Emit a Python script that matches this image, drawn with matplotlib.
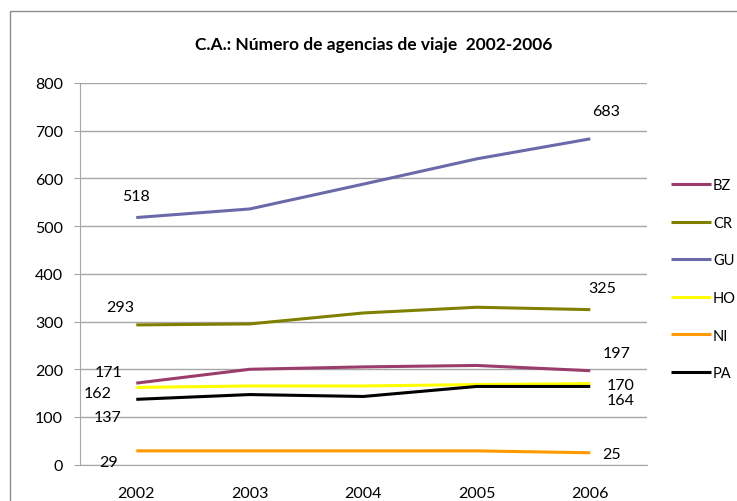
import matplotlib.pyplot as plt
from matplotlib.patches import Rectangle

plt.rcParams['font.family'] = ['Lato', 'DejaVu Sans']

# Datos
anios = ['2002', '2003', '2004', '2005', '2006']
paises = ['BZ', 'CR', 'GU', 'HO', 'NI', 'PA']
bz = [171, 200, 205, 208, 197]
cr = [293, 295, 318, 330, 325]
gu = [518, 536, 588, 641, 683]
ho = [162, 165, 165, 168, 170]
ni = [29, 29, 29, 29, 25]
pa = [137, 147, 143, 164, 164]
series = [bz, cr, gu, ho, ni, pa]

colores = ['#9b3d6b', '#808000', '#6a6aaa', '#ffff00', '#ff9900', '#000000']

# desplazamiento (px) de las etiquetas del primer y ultimo punto
off_ini = [(-28, 11), (-16, 18), (0, 22), (-39, -6), (-28, -11), (-29, -18)]
off_fin = [(26, 18), (12, 22), (16, 28), (30, -1), (21, -1), (30, -14)]

fig = plt.figure(figsize=(7.37, 5.02), dpi=100)
ax = fig.add_axes([0.1079, 0.0723, 0.7700, 0.7604])

x = list(range(len(anios)))
for i, nombre in enumerate(paises):
    ax.plot(x, series[i], color=colores[i], lw=2.2, label=nombre, solid_capstyle='butt')
    ax.annotate(str(series[i][0]), (x[0], series[i][0]), xytext=off_ini[i],
                textcoords='offset pixels', ha='center', va='center', fontsize=11.5)
    ax.annotate(str(series[i][-1]), (x[-1], series[i][-1]), xytext=off_fin[i],
                textcoords='offset pixels', ha='center', va='center', fontsize=11.5)

ax.set_xlim(-0.5, 4.5)
ax.set_ylim(0, 800)
ax.set_yticks(range(0, 801, 100))
ax.set_xticks(x)
ax.set_xticklabels(anios)
ax.grid(axis='y', color='#a6a6a6', lw=1)
ax.set_axisbelow(True)
for s in ['top', 'right']:
    ax.spines[s].set_visible(False)
for s in ['left', 'bottom']:
    ax.spines[s].set_color('#a6a6a6')
ax.tick_params(axis='y', length=4, color='#a6a6a6', labelsize=11.5, pad=8)
ax.tick_params(axis='x', length=0, labelsize=11.5, pad=15)

fig.text(0.507, 0.910, 'C.A.: Número de agencias de viaje  2002-2006',
         ha='center', va='center', fontsize=12.5, fontweight='bold')

fig.legend(loc='center left', bbox_to_anchor=(0.911, 0.442), frameon=False,
           fontsize=10.5, handlelength=2.7, handletextpad=0.15,
           labelspacing=1.62, borderpad=0, borderaxespad=0)

fig.patches.append(Rectangle((0.0129, -0.1), 1.2, 1.0767, transform=fig.transFigure,
                             fill=False, edgecolor='#8c8c8c', lw=1))

fig.savefig('out.png', dpi=100)
